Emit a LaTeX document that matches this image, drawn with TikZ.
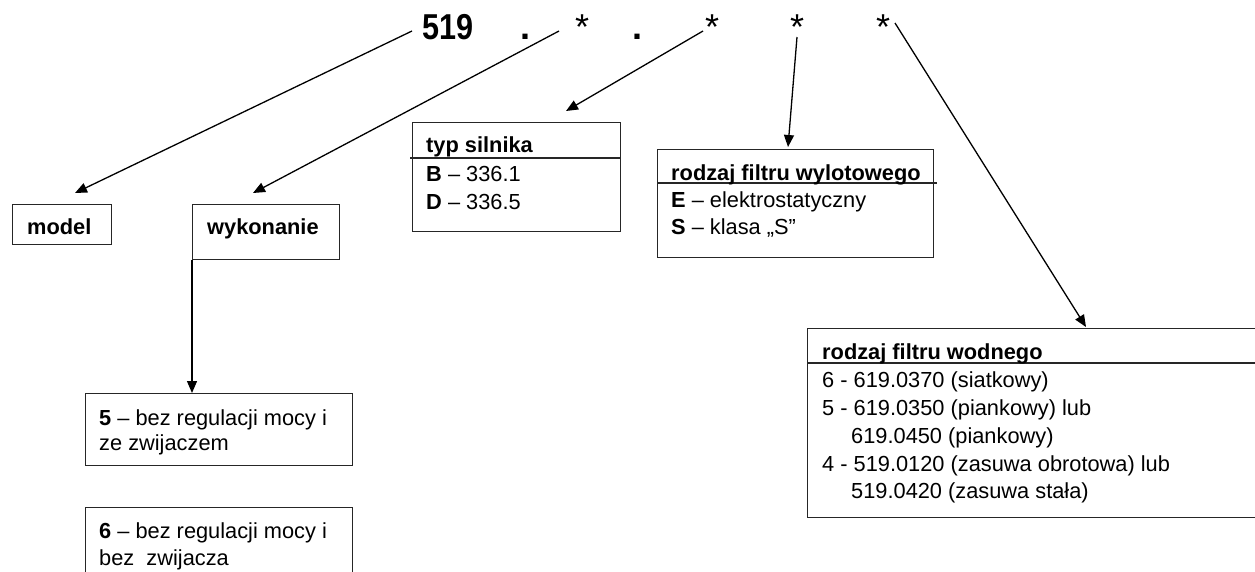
\documentclass[tikz,border=0pt]{standalone}
\usepackage{fontspec}
\setmainfont{Liberation Sans}
\usetikzlibrary{arrows.meta,calc}
\begin{document}
\begin{tikzpicture}[x=1pt,y=-1pt,
  box/.style={draw=black!85, line width=1.3pt, rectangle, inner sep=0pt, anchor=north west},
  sep/.style={draw=black!85, line width=1.3pt},
  txt/.style={anchor=base west, inner sep=0pt, font=\fontsize{21.8}{28}\selectfont},
  big/.style={anchor=base, inner sep=0pt, font=\fontsize{36}{40}\selectfont},
  arr/.style={line width=1.3pt, -{Triangle[length=12pt,width=10pt]}}]
\clip (0,0) rectangle (1255,571);
\fill[white] (0,0) rectangle (1255,571);

% top code
\node[big, anchor=base west] (n519) at (422,39) {\scalebox{0.85}[1]{\textbf{519}}};
\node[big] (d1) at (525,39) {\textbf{.}};
\node[big] (a1) at (582,39) {*};
\node[big] (d2) at (637,39) {\textbf{.}};
\node[big] (a2) at (712,39) {*};
\node[big] (a3) at (797,39) {*};
\node[big] (a4) at (883,39) {*};

% boxes
\node[box, minimum width=99pt, minimum height=40pt] (model) at (12,204) {};
\node[box, minimum width=147pt, minimum height=55pt] (wyk) at (192,204) {};
\node[box, minimum width=208pt, minimum height=109pt] (typ) at (412,122) {};
\node[box, minimum width=276pt, minimum height=108pt] (wyl) at (657,149) {};
\node[box, minimum width=470pt, minimum height=189pt] (wod) at (807,328) {};
\node[box, minimum width=267pt, minimum height=72pt] (b5) at (85,393) {};
\node[box, minimum width=267pt, minimum height=110pt] (b6) at (85,507) {};

% separators
\draw[sep] ($(typ.north west)+(-2,36)$) -- ($(typ.north east)+(0,36)$);
\draw[sep] ($(wyl.north west)+(0,34)$) -- ($(wyl.north east)+(3,34)$);
\draw[sep] ($(wod.north west)+(0,35)$) -- ($(wod.north east)+(0,35)$);

% texts
\node[txt] (tmodel) at (27,234) {\textbf{model}};
\node[txt] (twyk) at (207,234) {\textbf{wykonanie}};

\node[txt] (ttyp) at (426,152) {\textbf{typ silnika}};
\node[txt] (ttypB) at (426,181) {\textbf{B} – 336.1};
\node[txt] (ttypD) at (426,209) {\textbf{D} – 336.5};

\node[txt] (twyl) at (671,180) {\textbf{rodzaj filtru wylotowego}};
\node[txt] (twylE) at (671,207) {\textbf{E} – elektrostatyczny};
\node[txt] (twylS) at (671,234) {\textbf{S} – klasa „S”};

\node[txt] (twod) at (822,359) {\textbf{rodzaj filtru wodnego}};
\node[txt] (twod1) at (822,387) {6 - 619.0370 (siatkowy)};
\node[txt] (twod2) at (822,415) {5 - 619.0350 (piankowy) lub};
\node[txt] (twod3) at (851,443) {619.0450 (piankowy)};
\node[txt] (twod4) at (822,471) {4 - 519.0120 (zasuwa obrotowa) lub};
\node[txt] (twod5) at (851,498) {519.0420 (zasuwa stała)};

\node[txt] (tb5a) at (99,425) {\textbf{5} – bez regulacji mocy i};
\node[txt] (tb5b) at (99,450) {ze zwijaczem};
\node[txt] (tb6a) at (99,538) {\textbf{6} – bez regulacji mocy i};
\node[txt] (tb6b) at (99,565) {bez\ \ zwijacza};

% connector end points
\coordinate (s1) at (412,31);
\coordinate (e1) at (75,193);
\coordinate (s2) at (559,31);
\coordinate (e2) at (253,193);
\coordinate (s3) at (703,31);
\coordinate (e3) at (566,111);
\coordinate (s4) at (797,37);
\coordinate (e4) at (788,147);
\coordinate (s5) at (895,23);
\coordinate (e5) at (1086,327);

\draw[arr] (s1) -- (e1);
\draw[arr] (s2) -- (e2);
\draw[arr] (s3) -- (e3);
\draw[arr] (s4) -- (e4);
\draw[arr] (s5) -- (e5);
\draw[arr] (wyk.south west) -- (wyk.south west |- b5.north);
\end{tikzpicture}
\end{document}
